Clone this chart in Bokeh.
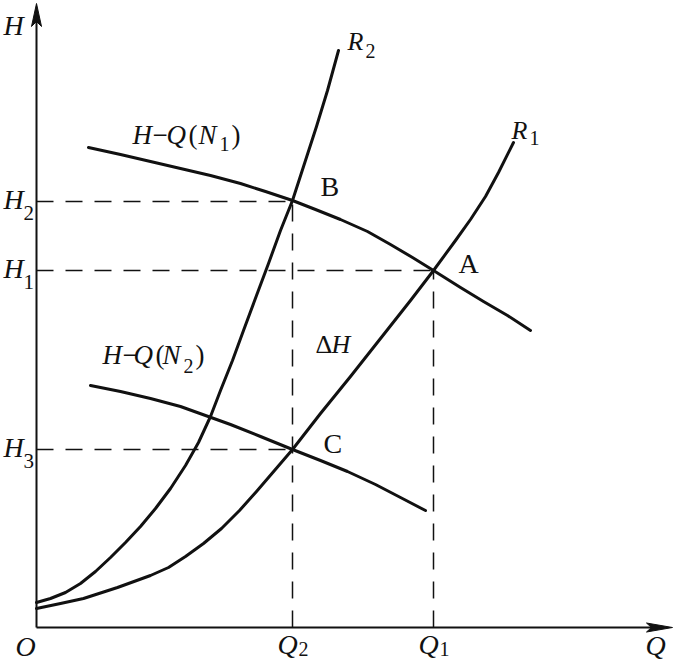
from bokeh.plotting import figure
from bokeh.models import ColumnDataSource, Range1d
from bokeh.core.properties import value
from bokeh.embed import file_html
from bokeh.resources import INLINE

# ---------------- data (diagram units) ----------------
Q2 = 25.6
Q1 = 39.7
H2 = 42.6
H1 = 35.7
H3 = 17.8

# pipe characteristic R2 (steep)
r2_q = [0.0, 1.4, 2.9, 4.4, 5.9, 7.4, 8.9, 10.4, 11.9, 13.4, 14.9, 16.2, 17.4,
        18.4, 19.6, 20.7, 22.0, 23.2, 24.4, 25.6, 26.8, 28.0, 29.1, 30.2]
r2_h = [2.5, 2.9, 3.5, 4.4, 5.6, 7.0, 8.5, 10.1, 11.9, 13.9, 16.2, 18.5, 21.1,
        23.7, 26.7, 29.7, 33.2, 36.4, 39.7, 42.7, 46.4, 50.1, 53.7, 57.7]

# pipe characteristic R1
r1_q = [0.0, 2.4, 4.7, 8.1, 11.4, 13.2, 14.9, 16.7, 18.5, 20.3, 22.0, 23.8,
        25.6, 28.4, 31.4, 34.4, 37.4, 39.7, 41.9, 43.4, 44.9, 46.2, 47.7]
r1_h = [1.9, 2.4, 2.9, 4.0, 5.2, 6.0, 7.1, 8.4, 9.9, 11.7, 13.6, 15.7,
        17.8, 21.4, 25.1, 28.9, 32.7, 35.7, 38.7, 40.8, 43.1, 45.5, 48.5]

# pump curve H-Q(N1)
n1_q = [5.2, 8.4, 11.4, 14.4, 17.4, 20.4, 22.9, 25.6, 27.9, 30.4, 33.1, 35.4,
        37.6, 39.7, 42.4, 44.7, 47.1, 49.4]
n1_h = [48.0, 47.3, 46.6, 45.9, 45.2, 44.4, 43.6, 42.7, 41.8, 40.8, 39.6, 38.3,
        37.0, 35.7, 34.0, 32.6, 31.2, 29.7]

# pump curve H-Q(N2)
n2_q = [5.4, 8.4, 11.4, 14.4, 16.9, 19.4, 22.4, 25.6, 28.4, 31.1, 33.9, 36.4, 38.9]
n2_h = [24.2, 23.6, 22.9, 22.1, 21.2, 20.3, 19.1, 17.8, 16.7, 15.6, 14.3, 13.0, 11.7]

Q_AXIS_END = 63.6
H_AXIS_END = 62.4

# ---------------- figure ----------------
p = figure(width=674, height=661, x_range=Range1d(-3.6, 63.8), y_range=Range1d(-3.4, 62.7),
           output_backend="svg", toolbar_location=None, min_border=0, title=None)
p.axis.visible = False
p.grid.visible = False
p.outline_line_color = None
p.background_fill_color = "white"
p.border_fill_color = "white"

INK = "#111111"

# axes
p.line([0, 0], [0, H_AXIS_END - 1.5], line_color=INK, line_width=2)
p.line([0, Q_AXIS_END - 1.5], [0, 0], line_color=INK, line_width=2)
p.patch([0, -0.5, 0, 0.5], [H_AXIS_END, H_AXIS_END - 2.3, H_AXIS_END - 1.8, H_AXIS_END - 2.3],
        fill_color=INK, line_color=INK, line_width=1)
p.patch([Q_AXIS_END, Q_AXIS_END - 2.6, Q_AXIS_END - 2.1, Q_AXIS_END - 2.6],
        [0, 0.45, 0, -0.45], fill_color=INK, line_color=INK, line_width=1)

# dashed guide lines
dash = dict(line_color=INK, line_width=1.5, line_dash="17 12")
p.line([0, Q2], [H2, H2], **dash)
p.line([0, Q1], [H1, H1], **dash)
p.line([0, Q2], [H3, H3], **dash)
p.line([Q2, Q2], [0, H2], **dash)
p.line([Q1, Q1], [0, H1], **dash)

# curves
curve = dict(line_color=INK, line_width=3, line_join="round", line_cap="round")
p.line(r2_q, r2_h, **curve)
p.line(r1_q, r1_h, **curve)
p.line(n1_q, n1_h, **curve)
p.line(n2_q, n2_h, **curve)

# ---------------- labels ----------------
def px(x, y):
    return (x - 36) / 10.0, (627 - y) / 10.0

labels = [
    # text, ref-x (left), ref-y (visual centre), size, style
    ("H", 3, 25, 28, "italic"),
    ("O", 15, 646, 28, "italic"),
    ("Q", 645, 645, 28, "italic"),
    ("Q", 277, 644, 28, "italic"), ("2", 298, 648, 20, "normal"),
    ("Q", 418, 644, 28, "italic"), ("1", 439, 648, 20, "normal"),
    ("H", 3, 199, 28, "italic"), ("2", 23, 212, 21, "normal"),
    ("H", 3, 268, 28, "italic"), ("1", 23, 281, 21, "normal"),
    ("H", 3, 447, 28, "italic"), ("3", 23, 460, 21, "normal"),
    ("R", 347, 41, 26, "italic"), ("2", 365, 50, 20, "normal"),
    ("R", 511, 130, 26, "italic"), ("1", 529, 137, 20, "normal"),
    ("H", 132, 134, 27, "italic"), ("\u2212", 152, 134, 27, "normal"),
    ("Q", 166, 134, 27, "italic"), ("(", 188, 134, 27, "normal"),
    ("N", 198, 134, 27, "italic"), ("1", 219, 143, 20, "normal"),
    (")", 231, 134, 27, "normal"),
    ("H", 102, 354, 27, "italic"), ("\u2212", 122, 354, 27, "normal"),
    ("Q", 133, 354, 27, "italic"), ("(", 155, 354, 27, "normal"),
    ("N", 162, 354, 27, "italic"), ("2", 183, 365, 20, "normal"),
    (")", 195, 354, 27, "normal"),
    ("B", 320, 186, 28, "normal"),
    ("A", 458, 263, 28, "normal"),
    ("C", 323, 443, 28, "normal"),
    ("\u0394", 315, 344, 26, "normal"), ("H", 331, 344, 26, "italic"),
]

groups = {}
for t, x, y, s, st in labels:
    dx, dy = px(x, y)
    g = groups.setdefault((s, st), dict(x=[], y=[], text=[]))
    g["x"].append(dx)
    g["y"].append(dy)
    g["text"].append(t)

for (s, st), g in groups.items():
    p.text(x="x", y="y", text="text", source=ColumnDataSource(g),
           text_font=value("Liberation Serif"), text_font_size=f"{s}px",
           text_font_style=st, text_color=INK, text_align="left",
           text_baseline="middle")

open("out.html", "w").write(file_html(p, INLINE))
